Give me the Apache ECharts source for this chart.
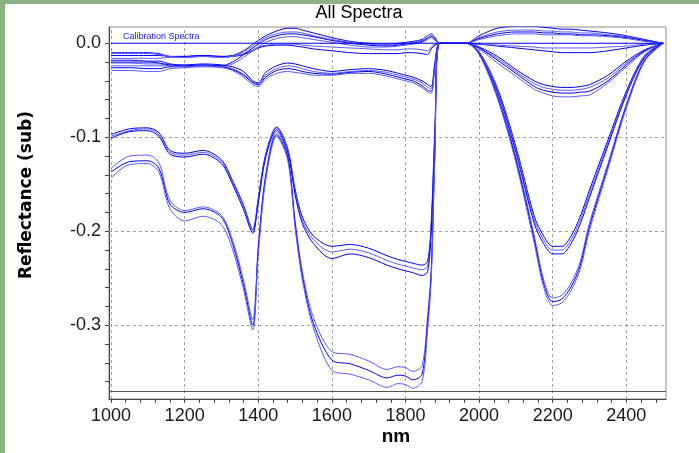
<!DOCTYPE html>
<html><head><meta charset="utf-8">
<script src="https://cdn.jsdelivr.net/npm/echarts@6/dist/echarts.min.js"></script>
<style>html,body{margin:0;padding:0;background:#fff}#c{width:699px;height:453px}</style>
</head><body><div id="c"></div>
<script>
// ---- data ----
const wavelengths = [1000,1050,1100,1130,1160,1200,1250,1300,1330,1360,1385,1400,1420,1450,1480,1500,1520,1550,1600,1650,1700,1750,1780,1800,1820,1845,1860,1870,1880,1893,1930,1965,2000,2050,2100,2150,2175,2200,2225,2250,2275,2300,2350,2400,2450,2500];

const refWavelengths = [1000, 2500];
const refSpectrum = [0, 0];

const specU1 = [-0.010,-0.010,-0.010,-0.011,-0.014,-0.014,-0.013,-0.014,-0.013,-0.008,-0.001,0.003,0.008,0.013,0.016,0.016,0.014,0.011,0.006,0.002,0.000,-0.001,0.000,0.001,0.002,0.004,0.008,0.010,0.006,0,0,0,0.008,0.016,0.018,0.018,0.017,0.016,0.015,0.015,0.014,0.013,0.011,0.008,0.004,0];
const specU2 = [-0.011,-0.011,-0.011,-0.012,-0.014,-0.015,-0.014,-0.015,-0.014,-0.009,-0.003,0.001,0.006,0.010,0.012,0.012,0.011,0.008,0.004,0.001,-0.001,-0.002,-0.001,0.000,0.001,0.003,0.006,0.008,0.005,0,0,0,0.006,0.012,0.014,0.014,0.013,0.013,0.012,0.012,0.011,0.011,0.009,0.007,0.003,0];
const specU3 = [-0.020,-0.020,-0.020,-0.021,-0.023,-0.024,-0.023,-0.024,-0.020,-0.012,-0.005,-0.001,0.004,0.008,0.010,0.010,0.009,0.007,0.003,0.000,-0.002,-0.003,-0.002,-0.001,0.000,0.002,0.005,0.007,0.004,0,0,0,0.005,0.010,0.012,0.012,0.011,0.011,0.010,0.010,0.009,0.009,0.008,0.006,0.003,0];
const specU4 = [-0.024,-0.024,-0.024,-0.024,-0.024,-0.025,-0.024,-0.025,-0.022,-0.015,-0.008,-0.004,0.001,0.005,0.007,0.007,0.006,0.004,0.001,-0.002,-0.004,-0.004,-0.003,-0.002,-0.001,0.001,0.004,0.006,0.003,0,0,0,0.004,0.008,0.010,0.010,0.009,0.009,0.009,0.009,0.008,0.008,0.007,0.005,0.002,0];
const specM1 = [-0.013,-0.013,-0.013,-0.013,-0.014,-0.014,-0.013,-0.014,-0.014,-0.012,-0.008,-0.005,-0.003,-0.002,-0.002,-0.003,-0.004,-0.006,-0.008,-0.010,-0.011,-0.011,-0.011,-0.010,-0.010,-0.011,-0.012,-0.006,-0.002,0,0,0,-0.001,-0.003,-0.005,-0.007,-0.008,-0.009,-0.010,-0.010,-0.010,-0.010,-0.008,-0.005,-0.002,0];
const specM2 = [-0.016,-0.016,-0.016,-0.016,-0.015,-0.015,-0.014,-0.015,-0.014,-0.011,-0.007,-0.004,-0.002,-0.001,-0.001,-0.001,-0.002,-0.003,-0.004,-0.005,-0.006,-0.007,-0.007,-0.006,-0.006,-0.007,-0.008,-0.004,-0.001,0,0,0,-0.001,-0.002,-0.003,-0.004,-0.005,-0.005,-0.005,-0.005,-0.005,-0.005,-0.004,-0.003,-0.001,0];
const specL1 = [-0.018,-0.018,-0.019,-0.019,-0.022,-0.023,-0.022,-0.023,-0.025,-0.030,-0.040,-0.042,-0.031,-0.024,-0.021,-0.022,-0.024,-0.027,-0.030,-0.028,-0.027,-0.029,-0.032,-0.034,-0.036,-0.040,-0.044,-0.046,-0.020,0,0,0,-0.004,-0.014,-0.028,-0.040,-0.044,-0.046,-0.047,-0.047,-0.046,-0.044,-0.034,-0.019,-0.007,0];
const specL2 = [-0.021,-0.021,-0.022,-0.022,-0.024,-0.024,-0.023,-0.024,-0.027,-0.033,-0.041,-0.043,-0.034,-0.027,-0.024,-0.025,-0.027,-0.030,-0.032,-0.030,-0.029,-0.031,-0.034,-0.036,-0.038,-0.042,-0.047,-0.048,-0.022,0,0,0,-0.005,-0.016,-0.030,-0.043,-0.047,-0.049,-0.050,-0.050,-0.049,-0.047,-0.037,-0.021,-0.008,0];
const specL3 = [-0.026,-0.026,-0.027,-0.027,-0.025,-0.025,-0.024,-0.025,-0.028,-0.034,-0.042,-0.044,-0.036,-0.029,-0.027,-0.028,-0.030,-0.032,-0.033,-0.031,-0.030,-0.033,-0.036,-0.038,-0.040,-0.045,-0.050,-0.051,-0.024,0,0,0,-0.005,-0.018,-0.032,-0.046,-0.050,-0.052,-0.053,-0.053,-0.052,-0.051,-0.040,-0.023,-0.008,0];
const specL4 = [-0.029,-0.029,-0.030,-0.030,-0.027,-0.026,-0.025,-0.026,-0.029,-0.036,-0.044,-0.046,-0.038,-0.032,-0.030,-0.031,-0.032,-0.034,-0.034,-0.032,-0.032,-0.035,-0.038,-0.040,-0.042,-0.047,-0.052,-0.053,-0.026,0,0,0,-0.006,-0.021,-0.035,-0.049,-0.053,-0.056,-0.057,-0.057,-0.056,-0.055,-0.042,-0.025,-0.009,0];
const specB1 = [-0.097,-0.091,-0.090,-0.095,-0.114,-0.117,-0.114,-0.124,-0.146,-0.172,-0.198,-0.165,-0.118,-0.089,-0.112,-0.155,-0.185,-0.205,-0.216,-0.214,-0.218,-0.226,-0.230,-0.232,-0.234,-0.236,-0.232,-0.190,-0.090,0,0,0,-0.009,-0.048,-0.110,-0.184,-0.205,-0.216,-0.216,-0.205,-0.184,-0.156,-0.103,-0.051,-0.013,0];
const specB2 = [-0.099,-0.093,-0.091,-0.097,-0.116,-0.119,-0.116,-0.126,-0.148,-0.174,-0.200,-0.167,-0.120,-0.090,-0.114,-0.158,-0.189,-0.209,-0.222,-0.219,-0.223,-0.231,-0.235,-0.237,-0.239,-0.241,-0.237,-0.195,-0.095,0,0,0,-0.010,-0.050,-0.113,-0.188,-0.209,-0.220,-0.220,-0.209,-0.188,-0.160,-0.106,-0.053,-0.014,0];
const specB3 = [-0.101,-0.094,-0.093,-0.099,-0.118,-0.121,-0.118,-0.128,-0.150,-0.177,-0.202,-0.170,-0.122,-0.092,-0.116,-0.161,-0.192,-0.213,-0.229,-0.224,-0.228,-0.236,-0.240,-0.242,-0.244,-0.247,-0.243,-0.200,-0.100,0,0,0,-0.011,-0.052,-0.116,-0.192,-0.213,-0.224,-0.224,-0.213,-0.192,-0.164,-0.109,-0.055,-0.015,0];
const specC1 = [-0.133,-0.120,-0.119,-0.127,-0.167,-0.178,-0.174,-0.183,-0.209,-0.252,-0.294,-0.215,-0.140,-0.094,-0.119,-0.188,-0.243,-0.292,-0.328,-0.331,-0.338,-0.347,-0.344,-0.345,-0.349,-0.343,-0.290,-0.240,-0.110,0,0,0,-0.010,-0.055,-0.121,-0.205,-0.251,-0.271,-0.268,-0.255,-0.232,-0.191,-0.128,-0.065,-0.017,0];
const specC2 = [-0.137,-0.126,-0.125,-0.133,-0.171,-0.180,-0.176,-0.185,-0.213,-0.257,-0.300,-0.220,-0.143,-0.097,-0.121,-0.192,-0.248,-0.298,-0.337,-0.341,-0.348,-0.356,-0.353,-0.354,-0.358,-0.352,-0.298,-0.245,-0.115,0,0,0,-0.011,-0.057,-0.124,-0.209,-0.255,-0.275,-0.272,-0.259,-0.236,-0.195,-0.131,-0.067,-0.018,0];
const specC3 = [-0.143,-0.129,-0.128,-0.137,-0.176,-0.189,-0.184,-0.193,-0.219,-0.262,-0.305,-0.225,-0.146,-0.099,-0.124,-0.196,-0.252,-0.303,-0.348,-0.352,-0.358,-0.366,-0.362,-0.363,-0.367,-0.360,-0.305,-0.250,-0.120,0,0,0,-0.012,-0.059,-0.127,-0.213,-0.259,-0.279,-0.276,-0.263,-0.240,-0.199,-0.134,-0.069,-0.019,0];

const xTickValues = [1000,1040,1080,1120,1160,1200,1240,1280,1320,1360,1400,1440,1480,1520,1560,1600,1640,1680,1720,1760,1800,1840,1880,1920,1960,2000,2040,2080,2120,2160,2200,2240,2280,2320,2360,2400,2440,2480];
const xLabelValues = [1000,1200,1400,1600,1800,2000,2200,2400];
const yTickValues = [-0.36,-0.34,-0.32,-0.30,-0.28,-0.26,-0.24,-0.22,-0.20,-0.18,-0.16,-0.14,-0.12,-0.10,-0.08,-0.06,-0.04,-0.02,0];
const yLabelValues = [-0.3,-0.2,-0.1,0];
const yGridValues = [-0.3,-0.2,-0.1];
const baseLineValue = -0.3667;

const titleText = 'All Spectra';
const legendText = 'Calibration Spectra';
const yName = 'Reflectance (sub)';
const xName = 'nm';

// ---- chart ----
const spectra = [specL1,specL2,specL3,specL4,specM1,specM2,specU1,specU2,specU3,specU4,specB1,specB2,specB3,specC1,specC2,specC3];
const lineColors = ['#0000f2','#5a5aff'];
const narrow = "'Liberation Sans Narrow','Liberation Sans',Arial,sans-serif";

const series = spectra.map((vals, i) => ({
  type: 'line',
  data: wavelengths.map((w, j) => [w, vals[j]]),
  showSymbol: false,
  smooth: 0.3,
  silent: true,
  z: 3,
  lineStyle: { width: 1, color: lineColors[i % 2] }
}));

series.push({
  type: 'line',
  data: refWavelengths.map((w, j) => [w, refSpectrum[j]]),
  showSymbol: false,
  silent: true,
  z: 4,
  lineStyle: { width: 1, color: '#0000ff' },
  markLine: {
    silent: true,
    z: 1,
    symbol: ['none', 'none'],
    label: { show: false },
    lineStyle: { type: [3, 3], color: '#a0a0a0', width: 1 },
    data: xLabelValues.map(v => ({ xAxis: v }))
      .concat(yGridValues.map(v => ({ yAxis: v })))
      .concat([{ yAxis: baseLineValue, lineStyle: { type: 'solid', color: '#555', width: 1.2 } }])
  }
});

const chart = echarts.init(document.getElementById('c'), null, { renderer: 'canvas' });
chart.setOption({
  animation: false,
  backgroundColor: '#ffffff',
  grid: { left: 109, right: 33, top: 27, bottom: 54, show: true, borderColor: '#8c8c8c', borderWidth: 1, backgroundColor: 'transparent' },
  xAxis: {
    type: 'value', min: 994.5, max: 2507.8,
    axisLine: { show: true, onZero: false, lineStyle: { color: '#444', width: 1 } },
    axisTick: { show: true, length: 4, customValues: xTickValues, lineStyle: { color: '#444' } },
    axisLabel: { customValues: xLabelValues, margin: 8, fontSize: 18, fontFamily: narrow, color: '#1a1a1a', formatter: v => String(v) },
    splitLine: { show: false }
  },
  yAxis: {
    type: 'value', min: -0.3784, max: 0.0173,
    axisLine: { show: true, onZero: false, lineStyle: { color: '#444', width: 1 } },
    axisTick: { show: true, length: 4, customValues: yTickValues, lineStyle: { color: '#444' } },
    axisLabel: { customValues: yLabelValues, margin: 8, fontSize: 18, fontFamily: narrow, color: '#1a1a1a', formatter: v => v.toFixed(1) },
    splitLine: { show: false }
  },
  graphic: [
    { type: 'rect', shape: { x: 0, y: 0, width: 699, height: 4 }, style: { fill: '#8eb382' }, silent: true },
    { type: 'rect', shape: { x: 0, y: 0, width: 5, height: 453 }, style: { fill: '#8eb382' }, silent: true },
    { type: 'text', x: 359, y: 13, style: { text: titleText, font: "18px " + narrow, fill: '#000', textAlign: 'center', textVerticalAlign: 'middle' } },
    { type: 'text', x: 123, y: 37, style: { text: legendText, font: "9px " + narrow, fill: '#1a1aff', textAlign: 'left', textVerticalAlign: 'middle' } },
    { type: 'text', x: 27, y: 195, rotation: Math.PI / 2, style: { text: yName, font: "bold 17px 'DejaVu Sans',sans-serif", fill: '#000', textAlign: 'center', textVerticalAlign: 'middle' } },
    { type: 'text', x: 396, y: 437, style: { text: xName, font: "bold 19px " + narrow, fill: '#000', textAlign: 'center', textVerticalAlign: 'middle' } }
  ],
  series: series
});
</script>
</body></html>
